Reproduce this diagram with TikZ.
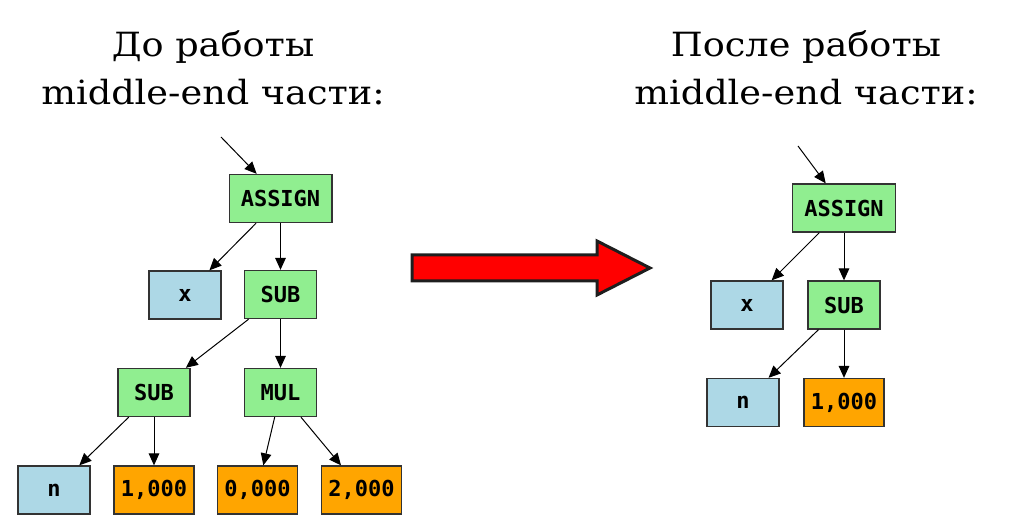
\documentclass[tikz,border=0pt]{standalone}
\usepackage{fontspec}
\setmainfont{DejaVu Serif}[FakeStretch=1.1]
\newfontfamily\labelfont{DejaVu Sans Mono}
\usetikzlibrary{arrows.meta}
\tikzset{every picture/.style={line width=0.75pt}}
\tikzset{
  treenode/.style={draw={rgb,255:red,51;green,51;blue,51}, line width=1pt, inner sep=0pt,
    minimum width=54pt, minimum height=36pt, font=\labelfont\bfseries\fontsize{16.5}{16.5}\selectfont},
  opnode/.style={treenode, fill={rgb,255:red,144;green,238;blue,144}},
  varnode/.style={treenode, fill={rgb,255:red,173;green,216;blue,230}},
  numnode/.style={treenode, fill={rgb,255:red,255;green,165;blue,0}, minimum width=60pt},
  edge/.style={-{Triangle[length=9pt,width=8pt]}, color=black},
  title/.style={align=center, font=\fontsize{25}{36}\selectfont}
}

\begin{document}
\begin{tikzpicture}[x=0.75pt,y=0.75pt,yscale=-1,xscale=1]
\useasboundingbox (0,0) rectangle (1015,530);

% Titles
\node (titleL) [title, anchor=base] at (213,105) {До работы\\middle-end части:};
\node (titleR) [title, anchor=base] at (806,105) {После работы\\middle-end части:};

% Tree before
\coordinate (inL) at (221,137);
\node (assignL) [opnode, minimum width=77pt] at (280.5,198.5) {ASSIGN};
\node (xL) [varnode] at (185,295) {x};
\node (subL) [opnode] at (280.5,294.5) {SUB};
\node (subLL) [opnode] at (154,392.5) {SUB};
\node (mulL) [opnode] at (280.5,392.5) {MUL};
\node (nL) [varnode] at (54,490) {n};
\node (oneL) [numnode] at (154,490) {1,000};
\node (zeroL) [numnode] at (257.5,490) {0,000};
\node (twoL) [numnode] at (361.5,490) {2,000};

\draw [edge] (inL) -- (assignL);
\draw [edge] (assignL) -- (xL);
\draw [edge] (assignL) -- (subL);
\draw [edge] (subL) -- (subLL);
\draw [edge] (subL) -- (mulL);
\draw [edge] (subLL) -- (nL);
\draw [edge] (subLL) -- (oneL);
\draw [edge] (mulL) -- (zeroL);
\draw [edge] (mulL) -- (twoL);

% Big arrow
\draw [line width=2.25pt, color={rgb,255:red,30;green,30;blue,30}, fill=red, miter limit=10]
  (412,255) -- (597,255) -- (597,241) -- (650,268) -- (597,295) -- (597,281) -- (412,281) -- cycle;

% Tree after
\coordinate (inR) at (798,146);
\node (assignR) [opnode, minimum width=77pt] at (844,208) {ASSIGN};
\node (xR) [varnode] at (747,305) {x};
\node (subR) [opnode] at (844,305) {SUB};
\node (nR) [varnode] at (743,402.5) {n};
\node (oneR) [numnode] at (844,402.5) {1,000};

\draw [edge] (inR) -- (assignR);
\draw [edge] (assignR) -- (xR);
\draw [edge] (assignR) -- (subR);
\draw [edge] (subR) -- (nR);
\draw [edge] (subR) -- (oneR);

\end{tikzpicture}
\end{document}
